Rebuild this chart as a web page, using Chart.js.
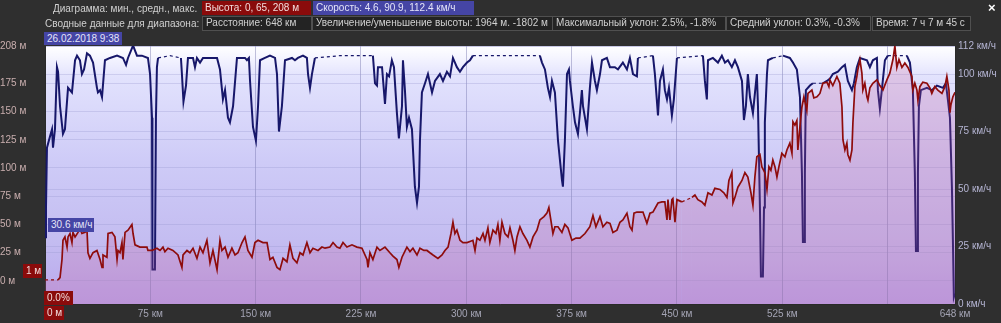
<!DOCTYPE html>
<html>
<head>
<meta charset="utf-8">
<script src="https://cdn.jsdelivr.net/npm/chart.js@4"></script>
<style>
  body { margin: 0; background: #2f2f2f; }
  #wrap { position: relative; width: 1001px; height: 323px; overflow: hidden;
          font: 10px "Liberation Sans", Arial, sans-serif; color: #d0d0d0; }
  #chart { position: absolute; left: 0; top: 0; }
  .t { position: absolute; white-space: nowrap; line-height: 13px; }
  .box { position: absolute; white-space: nowrap; line-height: 13px; height: 13px; padding: 0 3px; box-sizing: border-box; }
  .red { background: #8a0b0b; color: #f2dcdc; }
  .blue { background: #4545a5; color: #e4e4f8; }
  .dark { background: #232323; border: 1px solid #505050; color: #d0d0d0; line-height: 12px; height: 15px; }
</style>
</head>
<body>
<div id="wrap">
  <canvas id="chart" width="1001" height="323"></canvas>

  <div class="t" style="left:53px; top:2px;">Диаграмма: мин., средн., макс.</div>
  <div class="box red" style="left:202px; top:1px; width:109px; height:14px; line-height:14px;">Высота: 0, 65, 208 м</div>
  <div class="box blue" style="left:313px; top:1px; width:161px; height:14px; line-height:14px;">Скорость: 4.6, 90.9, 112.4 км/ч</div>

  <div class="t" style="left:45px; top:17px;">Сводные данные для диапазона:</div>
  <div class="box dark" style="left:202px; top:16px; width:110px;">Расстояние: 648 км</div>
  <div class="box dark" style="left:312px; top:16px; width:241px;">Увеличение/уменьшение высоты: 1964 м. -1802 м</div>
  <div class="box dark" style="left:552px; top:16px; width:174px;">Максимальный уклон: 2.5%, -1.8%</div>
  <div class="box dark" style="left:726px; top:16px; width:145px;">Средний уклон: 0.3%, -0.3%</div>
  <div class="box dark" style="left:872px; top:16px; width:99px;">Время: 7 ч 7 м 45 с</div>

  <div class="box blue" style="left:44px; top:32px; width:78px;">26.02.2018 9:38</div>
  <div class="t" style="left:988px; top:1px; color:#fff; font-weight:bold; font-size:13px;">×</div>

  <div class="box blue" style="left:48px; top:218px; width:46px; height:14px;">30.6 км/ч</div>
  <div class="box red" style="left:23px; top:264px; width:19px; height:14px;">1 м</div>
  <div class="box red" style="left:44px; top:291px; width:29px; height:14px;">0.0%</div>
  <div class="box red" style="left:44px; top:306px; width:20px; height:14px;">0 м</div>
</div>

<script>
// speed (km/h) against distance (km)
const speedKm = [0, 0.7, 1.4, 3.6, 5.0, 5.7, 7.1, 8.5, 9.3, 10.7, 12.8, 14.2, 16.4, 19.2, 21.4, 22.8, 24.9, 26.3, 27.8, 29.9,
  32.0, 34.2, 37.0, 37.7, 39.2, 40.6, 42.7, 46.3, 51.3, 55.5, 57.7, 59.1, 62.7, 65.5, 69.0, 73.3, 74.8, 76.2, 76.5, 78.3,
  79.0, 79.7, 80.5, 89.0, 96.8, 97.5, 98.6, 100.4, 101.8, 105.4, 106.8, 108.2, 110.4, 112.5, 117.5, 122.5, 124.6, 126.7, 128.2, 130.3,
  131.7, 133.9, 136.7, 139.5, 142.4, 143.8, 145.2, 146.0, 148.1, 150.2, 151.7, 153.1, 156.6, 160.2, 163.8, 165.2, 166.6, 168.7, 170.9, 175.9,
  178.0, 180.1, 183.7, 186.5, 187.3, 188.7, 190.1, 192.2, 210, 233.5, 235, 236.4, 237.1, 240, 242.1, 243.5, 245, 247, 248.5, 250.6,
  252, 254.2, 254.9, 256.3, 257.7, 259.2, 261.3, 263.4, 264.9, 266.3, 267, 268.4, 270.6, 272.7, 275.6, 277.7, 281.2, 283.4, 286.2, 288.4,
  290.5, 293.3, 295.5, 297.6, 300.5, 302.6, 304.7, 331, 352.4, 353.9, 356, 358.1, 359.6, 361, 363.1, 365.3, 368.1, 368.8, 370.2, 371.7,
  373.1, 373.8, 375.9, 377.4, 379.5, 380.9, 382.3, 383.1, 385.9, 388, 389.5, 391.6, 393, 395.2, 396.6, 400.1, 402.3, 405.8, 408, 411.5,
  414.4, 416.5, 418.7, 421.5, 422.2, 432.9, 434.3, 436.5, 437.9, 440, 441.4, 442.9, 444.3, 446.4, 447.8, 450, 468.5, 469.9, 471.3, 472.1,
  475.6, 479.2, 482, 484.2, 486.3, 489.1, 491.3, 493.4, 496.3, 497.7, 499.1, 500.5, 502, 504.1, 506.9, 507.7, 509.1, 509.8, 511.2, 512,
  512.6, 514.1, 514.8, 518.3, 525.5, 530.4, 532.6, 535.4, 537.6, 539, 539.7, 540.8, 541.1, 541.8, 544.7, 546.8, 553.9, 556.8, 559, 561,
  564.6, 567.5, 569.6, 571.7, 574.6, 576, 578.1, 580.3, 585.3, 587.4, 589.5, 592.4, 593.1, 594.5, 595.9, 598.1, 600.2, 613.7, 615.9, 618,
  619.4, 620.2, 621.2, 621.6, 622.3, 623.7, 628, 631.5, 635.1, 639.4, 641.5, 642.9, 644.4, 645.8, 646.5, 647.2, 648];
const speedVal = [29, 42, 68, 73, 76, 68, 76, 103, 101, 86, 74, 76, 94, 92, 106, 108, 106, 100, 102, 109,
  108, 105, 94, 92, 93, 90, 106, 107, 108, 107, 104, 107, 112.4, 108, 108, 107, 100, 81, 15, 15,
  81, 103, 107, 108, 107, 100, 88, 95, 107, 107, 103, 107, 105, 107, 107, 107, 102, 89, 93, 81,
  79, 86, 107, 107, 107, 106, 107, 97, 77, 71, 86, 106, 107, 108, 107, 100, 75, 86, 106, 107,
  106, 107, 108, 107, 100, 94, 100, 107, 108, 108, 96, 95, 103, 103, 87, 100, 99, 106, 103, 83,
  72, 86, 106, 93, 77, 81, 76, 51, 44, 51, 71, 92, 96, 100, 92, 97, 100, 97, 101, 99,
  107, 103, 101, 103, 105, 106, 108, 108, 108, 105, 102, 94, 90, 97, 92, 71, 54, 51, 71, 100,
  102, 97, 86, 79, 74, 83, 93, 86, 76, 94, 105, 97, 93, 100, 106, 107, 103, 103, 102, 105,
  102, 107, 100, 99, 107, 108, 100, 82, 97, 102, 93, 89, 94, 82, 89, 107, 108, 97, 89, 106,
  107, 105, 108, 105, 106, 103, 106, 103, 97, 80, 86, 100, 90, 83, 100, 86, 42, 12, 12, 42,
  79, 100, 106, 107, 108, 107, 105, 102, 90, 57, 27, 27, 57, 93, 95, 96, 96, 97, 98, 100,
  101, 103, 104, 97, 93, 96, 103, 107, 106, 103, 106, 107, 93, 85, 93, 106, 108, 108, 105, 93,
  57, 23, 23, 57, 86, 93, 94, 93, 95, 94, 96, 89, 81, 51, 28, 3, 4.6];

// elevation (m) against distance (km)
const elevKm = [0, 9.3, 10.7, 12.1, 12.8, 14.2, 15.7, 16.4, 17.8, 19.2, 19.9, 21.4, 23.5, 24.9, 26.3, 28.5, 29.9, 30.6, 32, 34.2,
  37, 39.2, 40.6, 41.3, 44.1, 44.9, 47.7, 49.8, 51.3, 52, 53.4, 54.8, 55.5, 57, 59.1, 61.9, 62.7, 64.1, 67.6, 72.6,
  73.3, 76.2, 79.7, 81.9, 84, 85.4, 87.6, 91.1, 94.7, 97.5, 98.3, 101.1, 103.2, 105.4, 108.2, 110.4, 112.5, 115.3, 117.5, 119.6,
  122.5, 124.6, 126, 128.2, 130.3, 133.1, 135.3, 137.4, 140.3, 142.4, 144.5, 147.4, 149.5, 151.7, 155.2, 158.1, 160.2, 162.3, 165.2, 167.3,
  169.5, 172.3, 174.4, 176.6, 179.4, 181.6, 183.7, 186.5, 188.7, 190.8, 194.4, 197.2, 199.4, 202.9, 205.1, 207.9, 210, 212.2, 215, 218.6,
  222.1, 225.7, 229.3, 230, 231.4, 233.5, 236.4, 238.5, 242.1, 245.6, 247.8, 250.6, 252, 254.2, 257.7, 259.9, 262, 264.9, 267, 269.8,
  272, 274.1, 276.3, 279.8, 282.7, 284.8, 287, 289.1, 290.5, 291.9, 293.3, 295.5, 297.6, 300.5, 302.6, 304.7, 306.2, 307.6, 309.7, 311.9,
  313.3, 315.4, 316.8, 319, 321.1, 322.5, 323.9, 325.4, 327.5, 329.7, 331.1, 333.2, 334.6, 336.1, 338.2, 340.3, 343.2, 345.3, 347.5, 350.3,
  352.4, 355.3, 357.4, 358.8, 360.2, 361.7, 363.1, 365.3, 368.1, 370.2, 372.4, 375.2, 378.1, 380.9, 384.5, 388, 390.2, 392.3, 395.2, 397.3,
  400.1, 402.3, 404.4, 407.3, 409.4, 411.5, 414.4, 416.5, 418, 419.4, 421.5, 425.8, 428.6, 430.8, 432.9, 436.5, 439.3, 441.4, 442.9, 443.6,
  445, 446.4, 447.1, 448.6, 450, 453.5, 460.7, 462.8, 464.9, 467.8, 469.9, 472.1, 474.9, 477, 480.6, 483.4, 485.6, 487, 489.1, 489.9,
  491.3, 493.4, 496.3, 498.4, 500.5, 502.7, 504.1, 505.5, 506.9, 509.1, 510.5, 512.6, 514.1, 515.5, 516.9, 518.3, 519.8, 521.2, 522.6, 524.7,
  526.9, 528.3, 530.4, 531.9, 532.6, 534, 535.4, 536.1, 537.6, 539, 540.4, 542.5, 543.3, 546.1, 547.5, 549.7, 551.8, 553.9, 556.8, 558.2,
  558.9, 561, 563.9, 566, 567.5, 568.2, 569.6, 571, 571.7, 573.2, 574.6, 575.3, 576.7, 578.1, 578.8, 580.3, 581.7, 582.4, 583.8, 585.3,
  586, 587.4, 589.5, 592.4, 594.5, 596.7, 599.5, 601.6, 603.8, 605.2, 606.6, 608.1, 610.2, 612.3, 614.5, 617.3, 618, 619.4, 620.9, 621.6,
  623, 625.1, 628, 630.1, 631.5, 633.6, 635.8, 638.7, 640.8, 642.2, 643.7, 644.4, 645.1, 646.5, 648];
const elevVal = [1, 1, 3, 19, 36, 39, 30, 39, 42, 34, 43, 39, 43, 47, 42, 43, 45, 25, 20, 25,
  27, 19, 12, 23, 21, 42, 43, 39, 19, 27, 25, 34, 19, 43, 45, 50, 42, 32, 30, 30,
  27, 27, 29, 27, 30, 26, 29, 27, 23, 12, 23, 27, 25, 29, 20, 30, 25, 36, 16, 27,
  10, 36, 27, 30, 21, 29, 23, 25, 34, 39, 27, 21, 34, 36, 34, 34, 19, 21, 12, 10,
  20, 17, 32, 20, 16, 25, 23, 34, 25, 29, 27, 30, 29, 30, 34, 30, 29, 34, 30, 32,
  30, 29, 19, 12, 25, 19, 30, 27, 30, 25, 22, 19, 12, 21, 30, 26, 29, 23, 29, 27,
  27, 25, 23, 20, 23, 27, 30, 42, 52, 42, 45, 36, 34, 34, 35, 36, 27, 38, 36, 42,
  36, 47, 34, 45, 42, 50, 36, 52, 42, 39, 47, 36, 27, 39, 48, 42, 36, 30, 39, 45,
  54, 57, 60, 65, 54, 42, 48, 48, 43, 50, 47, 36, 38, 38, 42, 48, 58, 48, 57, 48,
  52, 51, 43, 45, 52, 54, 60, 48, 45, 60, 61, 61, 51, 60, 61, 69, 70, 70, 54, 72,
  54, 72, 73, 52, 72, 70, 74, 76, 72, 70, 67, 78, 76, 82, 81, 78, 74, 89, 96, 69,
  74, 83, 89, 96, 92, 78, 67, 92, 110, 112, 101, 96, 81, 101, 98, 107, 101, 92, 101, 113,
  110, 116, 122, 113, 141, 138, 142, 116, 137, 154, 163, 151, 166, 169, 162, 163, 166, 175, 176, 172,
  178, 173, 181, 175, 154, 125, 116, 122, 112, 107, 116, 140, 172, 181, 187, 196, 184, 169, 175, 163,
  160, 171, 175, 178, 173, 169, 178, 184, 196, 208, 189, 196, 189, 193, 189, 181, 169, 175, 169, 160,
  172, 176, 175, 171, 166, 172, 169, 166, 172, 181, 169, 149, 156, 163, 167];

// axis ticks
const xTicks = [0, 75, 150, 225, 300, 375, 450, 525, 600, 648];
const elevTicks = [0, 25, 50, 75, 100, 125, 150, 175, 208];
const speedTicks = [0, 25, 50, 75, 100, 112.2];

const speedPts = speedKm.map((x, i) => ({ x, y: speedVal[i] }));
const elevPts = elevKm.map((x, i) => ({ x, y: elevVal[i] }));

// long gaps in the track are drawn dashed
const gapDash = ctx => (ctx.p1.parsed.x - ctx.p0.parsed.x > 5.5 ? [3, 3] : undefined);
const gapWidth = ctx => (ctx.p1.parsed.x - ctx.p0.parsed.x > 5.5 ? 1.2 : undefined);

const plotBg = {
  id: 'plotBg',
  beforeDraw(chart) {
    const { ctx, chartArea: a } = chart;
    const g = ctx.createLinearGradient(0, a.top, 0, a.bottom);
    g.addColorStop(0, '#ffffff');
    g.addColorStop(0.04, '#f6f6ff');
    g.addColorStop(0.12, '#e2e2fd');
    g.addColorStop(0.45, '#cecbf7');
    g.addColorStop(0.75, '#c4bdf1');
    g.addColorStop(1, '#b9a6ec');
    ctx.save();
    ctx.fillStyle = g;
    ctx.fillRect(a.left, a.top, a.right - a.left, a.bottom - a.top);
    ctx.restore();
  }
};

Chart.defaults.font.family = '"Liberation Sans", Arial, sans-serif';
Chart.defaults.font.size = 10;

new Chart(document.getElementById('chart').getContext('2d'), {
  type: 'line',
  data: {
    datasets: [
      {
        label: 'Скорость',
        data: speedPts,
        yAxisID: 'ySpeed',
        borderColor: '#17176a',
        borderWidth: 2,
        pointRadius: 0,
        fill: false,
        order: 1,
        segment: { borderDash: gapDash, borderWidth: gapWidth }
      },
      {
        label: 'Высота',
        data: elevPts,
        yAxisID: 'yElev',
        borderColor: '#8e0c0c',
        borderWidth: 1.7,
        pointRadius: 0,
        fill: 'start',
        backgroundColor: 'rgba(200, 90, 150, 0.22)',
        order: 0,
        segment: { borderDash: gapDash, borderWidth: gapWidth }
      }
    ]
  },
  options: {
    responsive: false,
    animation: false,
    devicePixelRatio: 1,
    layout: { padding: { top: 46, left: 0, right: 0, bottom: 0 } },
    plugins: { legend: { display: false }, tooltip: { enabled: false } },
    scales: {
      x: {
        type: 'linear',
        min: 0,
        max: 648,
        afterBuildTicks: s => { s.ticks = xTicks.map(v => ({ value: v })); },
        afterFit: s => { s.height = 19; },
        ticks: {
          autoSkip: false,
          maxRotation: 0,
          padding: 4,
          color: '#a4a4b4',
          callback: v => (v === 0 || v === 600 ? '' : v + ' км')
        },
        grid: { color: 'rgba(120, 120, 175, 0.45)', drawTicks: false },
        border: { color: '#2a2a2a' }
      },
      yElev: {
        position: 'left',
        min: -20.4,
        max: 208,
        afterBuildTicks: s => { s.ticks = elevTicks.map(v => ({ value: v })); },
        afterFit: s => { s.width = 45; },
        ticks: {
          crossAlign: 'far',
          padding: 2,
          color: '#c9aeae',
          callback: v => v + ' м'
        },
        grid: { color: 'rgba(150, 150, 205, 0.3)', drawTicks: false },
        border: { color: '#2a2a2a' }
      },
      ySpeed: {
        position: 'right',
        min: 0,
        max: 112.2,
        afterBuildTicks: s => { s.ticks = speedTicks.map(v => ({ value: v })); },
        afterFit: s => { s.width = 46; },
        ticks: {
          padding: 3,
          color: '#b4b4d2',
          callback: v => Math.round(v) + ' км/ч'
        },
        grid: { color: 'rgba(150, 150, 205, 0.3)', drawTicks: false },
        border: { color: '#2a2a2a' }
      }
    }
  },
  plugins: [plotBg]
});
</script>
</body>
</html>
